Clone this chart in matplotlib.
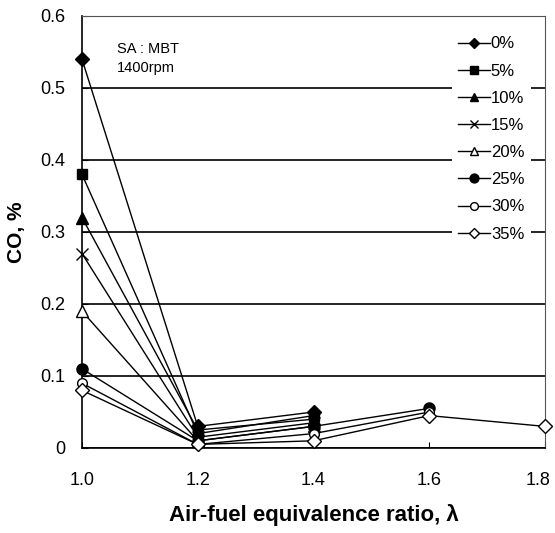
import numpy as np
import matplotlib
matplotlib.use("Agg")
import matplotlib.pyplot as plt
import matplotlib.transforms as mtransforms
from matplotlib.patches import Rectangle

plt.rcParams['font.family'] = ['Liberation Sans', 'DejaVu Sans']

lam = [1.0, 1.2, 1.4, 1.6, 1.8]
labels = ['0%', '5%', '10%', '15%', '20%', '25%', '30%', '35%']
nan = np.nan
co_0 = [0.54, 0.030, 0.050, nan, nan]
co_5 = [0.38, 0.020, 0.045, nan, nan]
co_10 = [0.32, 0.025, 0.040, nan, nan]
co_15 = [0.27, 0.015, 0.035, nan, nan]
co_20 = [0.19, 0.010, 0.030, nan, nan]
co_25 = [0.11, 0.010, 0.030, 0.055, nan]
co_30 = [0.09, 0.005, 0.020, 0.050, nan]
co_35 = [0.08, 0.005, 0.010, 0.045, 0.030]
series = [co_0, co_5, co_10, co_15, co_20, co_25, co_30, co_35]

markers = ['D', 's', '^', 'x', '^', 'o', 'o', 'D']
filled = [True, True, True, True, False, True, False, False]
sizes = [7, 7, 8, 8, 8, 8, 7, 7]

fig = plt.figure(figsize=(5.55, 5.33), dpi=100)
L, R, T, B = 82, 545, 16, 448
ax = fig.add_axes([L / 555, 1 - B / 533, (R - L) / 555, (B - T) / 533])

for y, lab, m, f, s in zip(series, labels, markers, filled, sizes):
    arr = np.array(y, dtype=float)
    ok = ~np.isnan(arr)
    ax.plot(np.array(lam)[ok], arr[ok], color='black', lw=1.0, marker=m,
            markersize=s, markerfacecolor='black' if f else 'white',
            markeredgecolor='black', markeredgewidth=1.0, label=lab,
            zorder=3, clip_on=False)

ax.set_xlim(1.0, 1.8)
ax.set_ylim(0, 0.6)
ax.set_xticks([1.0, 1.2, 1.4, 1.6, 1.8])
ax.set_xticklabels(['1.0', '1.2', '1.4', '1.6', '1.8'])
ax.set_yticks([0, 0.1, 0.2, 0.3, 0.4, 0.5, 0.6])
ax.set_yticklabels(['0', '0.1', '0.2', '0.3', '0.4', '0.5', '0.6'])
ax.tick_params(axis='both', direction='in', labelsize=13, length=4)
ax.tick_params(axis='x', pad=17)
ax.tick_params(axis='y', pad=12)
ax.yaxis.grid(True, color='black', lw=1.2)
ax.set_axisbelow(True)
for sp in ['top', 'right']:
    ax.spines[sp].set_linewidth(0.8)
    ax.spines[sp].set_color('#555555')
for sp in ['left', 'bottom']:
    ax.spines[sp].set_linewidth(1.2)

# nudge last x tick label inward so it stays inside the figure
last = ax.get_xticklabels()[-1]
last.set_transform(last.get_transform() +
                   mtransforms.ScaledTranslation(-7 / 100, 0, fig.dpi_scale_trans))

ax.set_xlabel('Air-fuel equivalence ratio, λ', fontsize=16, fontweight='bold', labelpad=11)
ax.set_ylabel('CO, %', fontsize=15, fontweight='bold', labelpad=10)

ax.text(0.075, 0.94, 'SA : MBT\n1400rpm', transform=ax.transAxes, fontsize=10.5,
        va='top', ha='left', linespacing=1.45)

# white area behind legend (gridlines interrupted)
ax.add_patch(Rectangle(((452 - L) / (R - L), 1 - (250 - T) / (B - T)),
                       (531 - 452) / (R - L), (250 - 28) / (B - T),
                       transform=ax.transAxes, facecolor='white',
                       edgecolor='none', zorder=1))

leg = ax.legend(loc='upper right', bbox_to_anchor=((531 - L) / (R - L), 0.968),
                frameon=False, fontsize=12, handlelength=1.9, handletextpad=0.05,
                labelspacing=0.73, borderpad=0.4, borderaxespad=0.0,
                markerscale=0.8)
leg.set_zorder(5)

fig.savefig('out.png', dpi=100)
